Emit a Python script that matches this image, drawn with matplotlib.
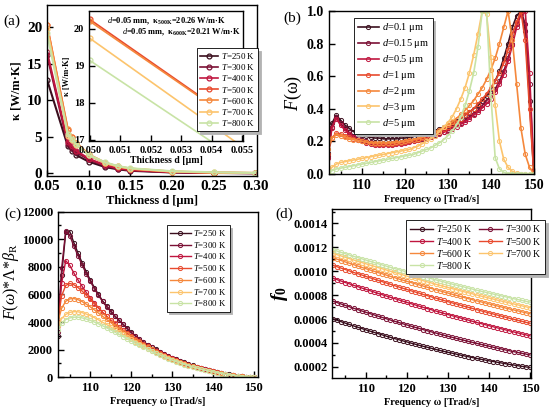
import matplotlib
matplotlib.use('Agg')
import matplotlib.pyplot as plt
from matplotlib.ticker import MultipleLocator, FormatStrFormatter

plt.rcParams['font.family'] = 'Liberation Serif'
plt.rcParams['mathtext.fontset'] = 'custom'
plt.rcParams['mathtext.rm'] = 'Liberation Serif'
plt.rcParams['mathtext.it'] = 'Liberation Serif:italic'
plt.rcParams['mathtext.bf'] = 'Liberation Serif:bold'
plt.rcParams['mathtext.bfit'] = 'Liberation Serif:italic:bold'
plt.rcParams['axes.linewidth'] = 1.0

# DATA
temps = ['250', '300', '400', '500', '600', '700', '800']
sizes = ['0.1', '0.15', '0.5', '1', '2', '3', '5']
colors = ['#3b0f1e', '#7b1035', '#c0163f', '#e84a2e', '#f5883c', '#fcc46d', '#c8e3a5']

# (a) thermal conductivity vs thickness
thick = [0.05, 0.075, 0.08, 0.085, 0.10, 0.12, 0.135, 0.15, 0.20, 0.25, 0.30]
kap_250 = [12.8, 3.7, 3.1, 2.5, 1.6, 0.85, 0.55, 0.35, 0.12, 0.05, 0.02]
kap_300 = [16.2, 4.0, 3.5, 2.9, 1.9, 1.0, 0.65, 0.42, 0.15, 0.06, 0.03]
kap_400 = [16.6, 4.3, 3.7, 3.1, 2.0, 1.1, 0.7, 0.45, 0.16, 0.07, 0.03]
kap_500 = [20.26, 5.9, 4.9, 4.1, 2.5, 1.4, 0.9, 0.6, 0.22, 0.1, 0.04]
kap_600 = [20.21, 6.0, 5.0, 4.2, 2.6, 1.45, 0.95, 0.65, 0.25, 0.1, 0.05]
kap_700 = [19.75, 5.1, 4.6, 3.9, 2.5, 1.4, 0.95, 0.65, 0.25, 0.12, 0.05]
kap_800 = [19.15, 5.4, 4.7, 4.0, 2.5, 1.5, 1.0, 0.7, 0.3, 0.15, 0.06]
kappas = [kap_250, kap_300, kap_400, kap_500, kap_600, kap_700, kap_800]

# frequency grid, Trad/s
omega = list(range(102, 151))

# (b) F(omega) for several thicknesses
F_01 = [0.13, 0.31, 0.36, 0.33, 0.30, 0.28, 0.26, 0.25, 0.24, 0.23, 0.225, 0.22, 0.22, 0.215, 0.215, 0.215, 0.215,
        0.22, 0.22, 0.225, 0.23, 0.235, 0.24, 0.25, 0.255, 0.265, 0.275, 0.285, 0.30, 0.31, 0.325, 0.34, 0.36, 0.38,
        0.40, 0.42, 0.45, 0.48, 0.52, 0.57, 0.63, 0.71, 0.80, 0.90, 0.97, 1.0, 0.88, 0.45, 0.0]
F_015 = [0.11, 0.29, 0.35, 0.31, 0.28, 0.255, 0.235, 0.22, 0.21, 0.20, 0.195, 0.19, 0.185, 0.185, 0.185, 0.185, 0.19,
         0.19, 0.195, 0.2, 0.205, 0.21, 0.215, 0.22, 0.23, 0.24, 0.25, 0.26, 0.27, 0.285, 0.30, 0.315, 0.33, 0.35,
         0.37, 0.39, 0.42, 0.45, 0.48, 0.52, 0.57, 0.63, 0.71, 0.80, 0.92, 1.0, 0.92, 0.55, 0.02]
F_05 = [0.10, 0.28, 0.34, 0.30, 0.27, 0.245, 0.225, 0.21, 0.20, 0.19, 0.185, 0.18, 0.18, 0.18, 0.18, 0.18, 0.185,
        0.185, 0.19, 0.195, 0.20, 0.205, 0.21, 0.215, 0.225, 0.235, 0.245, 0.255, 0.265, 0.275, 0.29, 0.305, 0.32,
        0.34, 0.36, 0.38, 0.405, 0.43, 0.46, 0.50, 0.55, 0.61, 0.69, 0.79, 0.90, 0.98, 1.0, 0.62, 0.03]
F_1 = [0.12, 0.22, 0.25, 0.245, 0.235, 0.225, 0.215, 0.205, 0.20, 0.195, 0.19, 0.185, 0.185, 0.185, 0.185, 0.185, 0.19,
       0.19, 0.195, 0.20, 0.205, 0.21, 0.22, 0.23, 0.24, 0.25, 0.26, 0.275, 0.29, 0.305, 0.32, 0.34, 0.36, 0.38, 0.40,
       0.43, 0.46, 0.49, 0.53, 0.57, 0.62, 0.68, 0.76, 0.86, 0.93, 1.0, 0.82, 0.40, 0.0]
F_2 = [0.15, 0.22, 0.24, 0.235, 0.225, 0.215, 0.21, 0.205, 0.20, 0.195, 0.19, 0.19, 0.19, 0.19, 0.19, 0.19, 0.195,
       0.195, 0.20, 0.205, 0.21, 0.215, 0.225, 0.235, 0.245, 0.255, 0.27, 0.285, 0.30, 0.32, 0.34, 0.365, 0.39, 0.42,
       0.45, 0.49, 0.53, 0.58, 0.64, 0.71, 0.80, 0.90, 1.0, 0.82, 0.55, 0.28, 0.12, 0.04, 0.0]
F_3 = [0.01, 0.04, 0.06, 0.07, 0.075, 0.08, 0.085, 0.09, 0.095, 0.10, 0.105, 0.11, 0.115, 0.12, 0.125, 0.13, 0.135,
       0.14, 0.145, 0.15, 0.16, 0.17, 0.185, 0.20, 0.215, 0.235, 0.26, 0.285, 0.315, 0.35, 0.40, 0.46, 0.53, 0.62,
       0.73, 0.86, 1.0, 0.98, 0.72, 0.42, 0.20, 0.09, 0.04, 0.015, 0.005, 0.0, 0.0, 0.0, 0.0]
F_5 = [0.0, 0.02, 0.03, 0.035, 0.04, 0.045, 0.05, 0.055, 0.06, 0.065, 0.07, 0.075, 0.08, 0.085, 0.09, 0.095, 0.10,
       0.105, 0.11, 0.115, 0.12, 0.13, 0.14, 0.15, 0.16, 0.175, 0.19, 0.21, 0.235, 0.265, 0.30, 0.35, 0.42, 0.51,
       0.62, 0.78, 1.0, 1.0, 0.48, 0.10, 0.03, 0.01, 0.0, 0.0, 0.0, 0.0, 0.0, 0.0, 0.0]
F_list = [F_01, F_015, F_05, F_1, F_2, F_3, F_5]

# (c) F(omega)*Lambda*beta_R
G_250 = [3000, 7400, 10500, 10550, 9750, 9000, 8300, 7650, 7050, 6500, 6000, 5550, 5150, 4800, 4450, 4150, 3850,
         3550, 3250, 3000, 2780, 2560, 2370, 2180, 2010, 1850, 1700, 1560, 1430, 1300, 1180, 1070, 960, 860, 770,
         680, 600, 520, 450, 380, 320, 260, 200, 150, 110, 70, 40, 15, 0]
G_300 = [3300, 7900, 10600, 10250, 9500, 8800, 8150, 7500, 6950, 6420, 5930, 5500, 5110, 4760, 4420, 4120, 3830,
         3530, 3240, 2990, 2770, 2550, 2360, 2170, 2000, 1840, 1690, 1550, 1420, 1290, 1170, 1060, 950, 850, 760,
         670, 590, 510, 440, 370, 310, 250, 195, 145, 105, 65, 35, 12, 0]
G_400 = [3700, 6800, 8450, 8100, 7550, 7050, 6600, 6150, 5750, 5380, 5030, 4710, 4410, 4130, 3870, 3620, 3390,
         3170, 2960, 2760, 2570, 2390, 2220, 2060, 1900, 1750, 1610, 1480, 1360, 1240, 1130, 1020, 920, 830, 740,
         650, 570, 500, 430, 360, 300, 240, 185, 140, 100, 60, 32, 10, 0]
G_500 = [4000, 5900, 6650, 6800, 6700, 6500, 6250, 5950, 5650, 5330, 5020, 4720, 4430, 4160, 3900, 3650, 3420,
         3190, 2980, 2780, 2590, 2400, 2230, 2060, 1900, 1750, 1610, 1470, 1350, 1230, 1120, 1010, 910, 820, 730,
         640, 560, 490, 420, 350, 290, 235, 180, 135, 95, 58, 30, 10, 0]
G_600 = [3900, 5000, 5500, 5680, 5700, 5620, 5480, 5300, 5100, 4880, 4650, 4420, 4190, 3960, 3740, 3520, 3310,
         3100, 2900, 2710, 2520, 2340, 2170, 2010, 1850, 1700, 1560, 1430, 1310, 1190, 1080, 980, 880, 790, 700,
         620, 540, 470, 400, 340, 280, 225, 175, 130, 90, 55, 28, 9, 0]
G_700 = [3700, 4250, 4550, 4700, 4750, 4740, 4680, 4580, 4460, 4320, 4160, 3990, 3820, 3640, 3460, 3280, 3100,
         2920, 2740, 2570, 2400, 2240, 2080, 1930, 1780, 1640, 1510, 1380, 1260, 1150, 1040, 940, 850, 760, 680,
         600, 520, 450, 390, 330, 270, 215, 170, 125, 85, 52, 26, 8, 0]
G_800 = [3400, 3900, 4180, 4300, 4350, 4350, 4300, 4220, 4120, 4000, 3870, 3730, 3580, 3430, 3270, 3110, 2950,
         2790, 2630, 2470, 2310, 2160, 2010, 1870, 1730, 1600, 1470, 1350, 1230, 1120, 1020, 920, 830, 740, 660,
         580, 510, 440, 380, 320, 265, 210, 165, 120, 82, 50, 25, 8, 0]
G_list = [G_250, G_300, G_400, G_500, G_600, G_700, G_800]

# (d) f0, in units of 1e-4
f0_250 = [6.02, 5.90, 5.78, 5.66, 5.55, 5.43, 5.32, 5.21, 5.10, 4.99, 4.89, 4.78, 4.68, 4.57, 4.47, 4.37, 4.28,
          4.18, 4.09, 3.99, 3.90, 3.81, 3.72, 3.64, 3.55, 3.47, 3.38, 3.30, 3.22, 3.15, 3.07, 2.99, 2.92, 2.85,
          2.78, 2.71, 2.64, 2.58, 2.51, 2.45, 2.39, 2.33, 2.27, 2.21, 2.16, 2.10, 2.05, 2.00, 1.95]
f0_300 = [7.50, 7.38, 7.26, 7.14, 7.03, 6.91, 6.80, 6.68, 6.57, 6.46, 6.35, 6.24, 6.14, 6.03, 5.92, 5.82, 5.72,
          5.61, 5.51, 5.41, 5.31, 5.22, 5.12, 5.02, 4.93, 4.84, 4.75, 4.65, 4.56, 4.48, 4.39, 4.30, 4.22, 4.13,
          4.05, 3.97, 3.89, 3.81, 3.73, 3.65, 3.57, 3.50, 3.42, 3.35, 3.28, 3.21, 3.14, 3.07, 3.00]
f0_400 = [9.42, 9.30, 9.18, 9.06, 8.95, 8.83, 8.72, 8.60, 8.49, 8.38, 8.26, 8.15, 8.04, 7.93, 7.82, 7.72, 7.61,
          7.50, 7.40, 7.29, 7.19, 7.08, 6.98, 6.88, 6.78, 6.68, 6.58, 6.48, 6.38, 6.29, 6.19, 6.10, 6.00, 5.91,
          5.81, 5.72, 5.63, 5.54, 5.45, 5.36, 5.27, 5.19, 5.10, 5.02, 4.93, 4.85, 4.76, 4.68, 4.60]
f0_500 = [10.50, 10.38, 10.26, 10.15, 10.03, 9.91, 9.80, 9.69, 9.57, 9.46, 9.35, 9.24, 9.13, 9.02, 8.91, 8.80,
          8.69, 8.58, 8.48, 8.37, 8.27, 8.17, 8.06, 7.96, 7.86, 7.76, 7.66, 7.56, 7.46, 7.36, 7.27, 7.17, 7.07,
          6.98, 6.89, 6.79, 6.70, 6.61, 6.52, 6.43, 6.34, 6.25, 6.16, 6.07, 5.99, 5.90, 5.82, 5.73, 5.65]
f0_600 = [11.13, 11.01, 10.90, 10.78, 10.67, 10.56, 10.44, 10.33, 10.22, 10.11, 10.00, 9.89, 9.79, 9.68, 9.57,
          9.47, 9.36, 9.26, 9.16, 9.06, 8.96, 8.86, 8.76, 8.66, 8.56, 8.46, 8.37, 8.27, 8.18, 8.08, 7.99, 7.90,
          7.80, 7.71, 7.62, 7.53, 7.45, 7.36, 7.27, 7.19, 7.10, 7.02, 6.93, 6.85, 6.77, 6.69, 6.61, 6.53, 6.45]
f0_700 = [11.50, 11.39, 11.28, 11.17, 11.06, 10.95, 10.84, 10.73, 10.63, 10.52, 10.42, 10.31, 10.21, 10.11,
          10.00, 9.90, 9.80, 9.70, 9.60, 9.50, 9.40, 9.31, 9.21, 9.11, 9.02, 8.92, 8.83, 8.74, 8.65, 8.55, 8.46,
          8.37, 8.28, 8.20, 8.11, 8.02, 7.93, 7.85, 7.76, 7.68, 7.59, 7.51, 7.43, 7.35, 7.27, 7.19, 7.11, 7.03, 6.95]
f0_800 = [11.80, 11.69, 11.58, 11.47, 11.36, 11.26, 11.15, 11.05, 10.94, 10.84, 10.74, 10.63, 10.53, 10.43,
          10.33, 10.23, 10.14, 10.04, 9.94, 9.85, 9.75, 9.66, 9.56, 9.47, 9.38, 9.29, 9.20, 9.11, 9.02, 8.93, 8.85,
          8.76, 8.68, 8.59, 8.51, 8.42, 8.34, 8.26, 8.18, 8.10, 8.02, 7.94, 7.87, 7.79, 7.71, 7.64, 7.57, 7.49, 7.42]
f0_list = [f0_250, f0_300, f0_400, f0_500, f0_600, f0_700, f0_800]


def style(ax, size):
    ax.tick_params(which='both', direction='in', top=False, right=False, labelsize=size, width=1.0)
    ax.tick_params(which='major', length=4)
    ax.tick_params(which='minor', length=2)
    for lab in ax.get_xticklabels() + ax.get_yticklabels():
        lab.set_fontweight('bold')


def legend(ax, x, y, size, ncol=1, spacing=0.3, hl=2.0, order=None):
    h, l = ax.get_legend_handles_labels()
    if order is not None:
        h = [h[i] for i in order]
        l = [l[i] for i in order]
    leg = ax.legend(h, l, loc='upper left', bbox_to_anchor=(x, y), bbox_transform=fig.transFigure,
                    prop={'size': size}, ncol=ncol, fancybox=False,
                    edgecolor='k', framealpha=1, shadow={'color': '0.7', 'alpha': 1},
                    labelspacing=spacing, handlelength=hl, handletextpad=0.3, borderpad=0.35,
                    columnspacing=0.6, borderaxespad=0)
    leg.get_frame().set_linewidth(0.6)
    return leg


fig = plt.figure(figsize=(5.5, 4.15), dpi=100)

# ---- (a)
axa = fig.add_axes([0.0855, 0.577, 0.3815, 0.411])
for k, c in zip(kappas, colors):
    axa.plot(thick, k, '-o', color=c, lw=1.5, ms=3.5, mfc='none', mew=0.9)
axa.set_xlim(0.05, 0.302)
axa.set_ylim(-0.3, 23)
axa.xaxis.set_major_locator(MultipleLocator(0.05))
axa.xaxis.set_major_formatter(FormatStrFormatter('%.2f'))
axa.yaxis.set_major_locator(MultipleLocator(5))
style(axa, 11)
axa.set_xlabel('Thickness d [μm]', fontsize=9, fontweight='bold', labelpad=1)
axa.set_ylabel('κ [W/m·K]', fontsize=9, fontweight='bold', labelpad=3)

axi = fig.add_axes([0.162, 0.660, 0.280, 0.313])
for k, c, t in zip(kappas, colors, temps):
    axi.plot(thick, k, '-o', color=c, lw=1.2, ms=3.5, mfc='none', mew=0.9, label='$T$=%s K' % t)
axi.set_xlim(0.04998, 0.05503)
axi.set_ylim(16.97, 20.48)
axi.xaxis.set_major_locator(MultipleLocator(0.001))
axi.xaxis.set_major_formatter(FormatStrFormatter('%.3f'))
axi.yaxis.set_major_locator(MultipleLocator(1))
style(axi, 7.5)
axi.set_xlabel('Thickness d [μm]', fontsize=7, fontweight='bold', labelpad=1)
axi.set_ylabel('κ [W/m·K]', fontsize=6, fontweight='bold', labelpad=2)
axi.text(0.50, 0.925, r'$d$=0.05 mm,  κ$_{\mathbf{500K}}$=20.26 W/m·K', transform=axi.transAxes,
         fontsize=6, fontweight='bold', ha='center', va='center')
axi.text(0.60, 0.835, r'$d$=0.05 mm,  κ$_{\mathbf{600K}}$=20.21 W/m·K', transform=axi.transAxes,
         fontsize=6, fontweight='bold', ha='center', va='center')
legend(axi, 0.358, 0.884, 6.5, spacing=0.12, hl=2.0)

# ---- (b)
axb = fig.add_axes([0.598, 0.581, 0.373, 0.3925])
for f, c, d in zip(F_list, colors, sizes):
    axb.plot(omega, f, '-o', color=c, lw=1.2, ms=3, mfc='none', mew=0.7, label='$d$=%s μm' % d)
axb.set_xlim(102.3, 150.05)
axb.set_ylim(0, 1.0)
axb.xaxis.set_major_locator(MultipleLocator(10))
axb.xaxis.set_minor_locator(MultipleLocator(5))
axb.yaxis.set_major_locator(MultipleLocator(0.2))
axb.yaxis.set_major_formatter(FormatStrFormatter('%.1f'))
style(axb, 10)
axb.set_xlabel('Frequency ω [Trad/s]', fontsize=7.5, fontweight='bold', labelpad=2)
axb.set_ylabel(r'$F$(ω)', fontsize=13, labelpad=2)
legend(axb, 0.644, 0.957, 7.5, spacing=0.28, hl=2.0)

# ---- (c)
axc = fig.add_axes([0.105, 0.091, 0.364, 0.399])
for g, c, t in zip(G_list, colors, temps):
    axc.plot(omega, g, '-o', color=c, lw=1.0, ms=3, mfc='none', mew=0.7, label='$T$=%s K' % t)
axc.set_xlim(102.05, 151)
axc.set_ylim(0, 12000)
axc.xaxis.set_major_locator(MultipleLocator(10))
axc.xaxis.set_minor_locator(MultipleLocator(5))
axc.yaxis.set_major_locator(MultipleLocator(2000))
axc.yaxis.set_minor_locator(MultipleLocator(1000))
style(axc, 9)
axc.set_xlabel('Frequency ω [Trad/s]', fontsize=7.5, fontweight='bold', labelpad=2)
axc.set_ylabel(r'$F(\omega)$*$\Lambda$*$\beta_\mathrm{R}$', fontsize=11.5)
axc.yaxis.set_label_coords(-0.185, 0.58)
legend(axc, 0.303, 0.458, 6.3, spacing=0.2, hl=2.4)

# ---- (d)
axd = fig.add_axes([0.604, 0.088, 0.361, 0.408])
for f, c, t in zip(f0_list, colors, temps):
    axd.plot(omega, [v * 1e-4 for v in f], '-o', color=c, lw=1.0, ms=3, mfc='none', mew=0.7,
             label='$T$=%s K' % t)
axd.set_xlim(101.8, 150.2)
axd.set_ylim(0.000103, 0.00152)
axd.xaxis.set_major_locator(MultipleLocator(10))
axd.xaxis.set_minor_locator(MultipleLocator(5))
axd.yaxis.set_major_locator(MultipleLocator(0.0002))
axd.yaxis.set_minor_locator(MultipleLocator(0.0001))
axd.yaxis.set_major_formatter(FormatStrFormatter('%.4f'))
style(axd, 9)
axd.set_xlabel('Frequency ω [Trad/s]', fontsize=7.5, fontweight='bold', labelpad=2)
axd.set_ylabel(r'$\mathbfit{f}_\mathbf{0}$', fontsize=14, labelpad=2)
legend(axd, 0.739, 0.470, 7, ncol=2, spacing=0.12, hl=2.4, order=[0, 2, 4, 6, 1, 3, 5])

# panel labels
fig.text(0.022, 0.949, '(a)', fontsize=11, ha='center', va='center')
fig.text(0.531, 0.957, '(b)', fontsize=11, ha='center', va='center')
fig.text(0.024, 0.484, '(c)', fontsize=11, ha='center', va='center')
fig.text(0.516, 0.484, '(d)', fontsize=11, ha='center', va='center')

fig.savefig('out.png', dpi=100)
